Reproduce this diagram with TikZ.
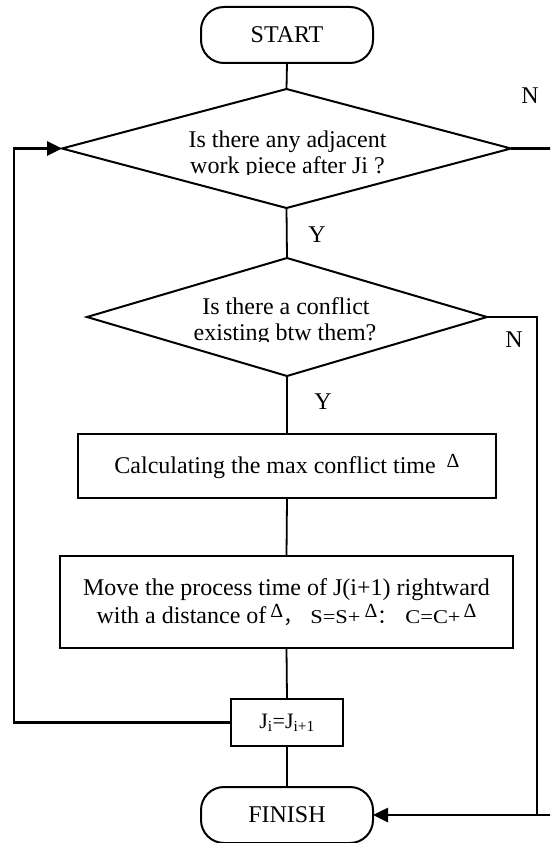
\documentclass[tikz,border=0pt]{standalone}
\usepackage{fontspec}
\setmainfont{Liberation Serif}
\newfontfamily\cjkpunct{Noto Sans CJK SC}
\usetikzlibrary{shapes.geometric,arrows.meta}
\newcommand{\rdelta}{\raisebox{6pt}{\fontsize{20}{20}\selectfont Δ}}
\newcommand{\sseq}[1]{\scalebox{1.15}[1]{\fontsize{19.5}{20}\selectfont #1}}
\begin{document}
\begin{tikzpicture}[x=1pt,y=-1pt,
  every node/.style={font=\fontsize{24}{28}\selectfont, inner sep=0pt, outer sep=0pt},
  term/.style={draw, line width=2pt, rounded corners=23pt, minimum width=172pt, minimum height=56pt},
  procbox/.style={draw, line width=2.2pt, align=center},
  decision/.style={draw, diamond, line width=2pt},
  conn/.style={line width=1.8pt},
  loopline/.style={line width=2.6pt},
  tipend/.style={-{Triangle[length=15pt,width=14pt]}}]
\clip (0,0) rectangle (550,843);
\fill[white] (0,0) rectangle (550,843);
% shapes
\node[term] (start) at (287,35) {START};
\node[decision, minimum width=449pt, minimum height=119pt] (d1) at (286.5,148.5) {};
\node[decision, minimum width=400pt, minimum height=118pt] (d2) at (287,317) {};
\node[procbox, minimum width=418pt, minimum height=64pt] (b1) at (287,466)
  {Calculating the max conflict time\hspace{11pt}\rdelta};
\node[procbox, minimum width=453pt, minimum height=92pt] (b2) at (286.5,602)
  {Move the process time of J(i+1) rightward\\
   with a distance of\hspace{4pt}\rdelta{\fontsize{20}{20}\cjkpunct ，}\hspace{7pt}\sseq{S=S+}\hspace{4pt}\rdelta{\fontsize{20}{20}\cjkpunct ：}\hspace{8pt}\sseq{C=C+}\hspace{3pt}\rdelta};
\node[procbox, minimum width=112pt, minimum height=47pt, font=\fontsize{22}{24}\selectfont] (b3) at (287,722.5)
  {J\textsubscript{i}=J\textsubscript{i+1}};
\node[term] (finish) at (287,815) {FINISH};
% diamond texts (clipped at the bottom as in the reference)
\begin{scope}
  \clip (100,110) rectangle (480,174.5);
  \node[anchor=base] (q1a) at (287.5,147) {Is there any adjacent};
  \node[anchor=base] (q1b) at (287.5,173) {work piece after Ji ?};
\end{scope}
\begin{scope}
  \clip (110,280) rectangle (470,341.5);
  \node[anchor=base] (q2a) at (286,314) {Is there a conflict};
  \node[anchor=base] (q2b) at (285,340) {existing btw them?};
\end{scope}
% labels
\node (y1) at (317,235) {Y};
\node (y2) at (323,402) {Y};
\node (n1) at (530,96) {N};
\node (n2) at (514,340) {N};
% connectors
\draw[conn] (start.south) -- (d1.north);
\draw[conn] (d1.south) -- (d2.north);
\draw[conn] (d2.south) -- (b1.north);
\draw[conn] (b1.south) -- (b2.north);
\draw[conn] (b2.south) -- (b3.north);
\draw[conn] (b3.south) -- (finish.north);
\coordinate (loopl) at (14,722.5);
\coordinate (outr) at (565,148.5);
\coordinate (join) at (537,815);
\draw[loopline, tipend] (b3.west) -- (loopl) |- (d1.west);
\draw[loopline, tipend] (d1.east) -- (outr) |- (finish.east);
\draw[loopline] (d2.east) -| (join);
\end{tikzpicture}
\end{document}
